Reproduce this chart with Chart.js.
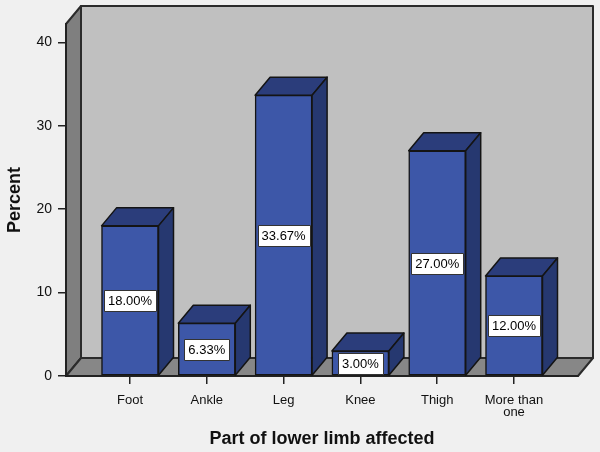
<!DOCTYPE html>
<html lang="en">
<head>
  <meta charset="UTF-8" />
  <title>Part of lower limb affected</title>
  <script src="https://cdn.jsdelivr.net/npm/chart.js"></script>
  <style>
    body {
      margin: 0;
      background: #f0f0f0;
    }
    canvas {
      display: block;
    }
  </style>
</head>
<body>
  <canvas id="limbChart" width="600" height="452"></canvas>

  <script>
  const categories = ['Foot', 'Ankle', 'Leg', 'Knee', 'Thigh', ['More than', 'one']];
  const percents = [18.00, 6.33, 33.67, 3.00, 27.00, 12.00];
  const yTicks = [0, 10, 20, 30, 40];

  // depth of the fake 3D box
  const DX = 15, DY = -18;

  function poly(ctx, pts, fill) {
    ctx.beginPath();
    ctx.moveTo(pts[0][0], pts[0][1]);
    for (let i = 1; i < pts.length; i++) ctx.lineTo(pts[i][0], pts[i][1]);
    ctx.closePath();
    ctx.fillStyle = fill;
    ctx.fill();
    ctx.stroke();
  }

  const box3d = {
    id: 'box3d',
    beforeDraw(chart) {
      const { ctx, chartArea: a } = chart;
      ctx.save();
      ctx.lineWidth = 2;
      ctx.strokeStyle = '#2b2b2b';
      ctx.lineJoin = 'round';
      // back wall
      poly(ctx, [[a.left + DX, a.top + DY], [a.right + DX, a.top + DY],
                 [a.right + DX, a.bottom + DY], [a.left + DX, a.bottom + DY]], '#c0c0c0');
      // left wall
      poly(ctx, [[a.left, a.top], [a.left + DX, a.top + DY],
                 [a.left + DX, a.bottom + DY], [a.left, a.bottom]], '#7f7f7f');
      // floor
      poly(ctx, [[a.left, a.bottom], [a.left + DX, a.bottom + DY],
                 [a.right + DX, a.bottom + DY], [a.right, a.bottom]], '#878787');
      ctx.restore();
    },
    afterDatasetsDraw(chart) {
      const ctx = chart.ctx;
      const meta = chart.getDatasetMeta(0);
      ctx.save();
      ctx.lineWidth = 1.5;
      ctx.strokeStyle = '#141414';
      ctx.lineJoin = 'round';
      meta.data.forEach(bar => {
        const { x, y, base, width } = bar.getProps(['x', 'y', 'base', 'width'], true);
        const l = x - width / 2, r = x + width / 2;
        poly(ctx, [[l, y], [l + DX, y + DY], [r + DX, y + DY], [r, y]], '#2b3d7b');
        poly(ctx, [[r, y], [r + DX, y + DY], [r + DX, base + DY], [r, base]], '#263870');
      });

      // value boxes
      ctx.font = '13px Arial, "Liberation Sans", sans-serif';
      ctx.textAlign = 'center';
      ctx.textBaseline = 'middle';
      ctx.lineWidth = 1;
      ctx.strokeStyle = '#333';
      meta.data.forEach((bar, i) => {
        const { x, y, base } = bar.getProps(['x', 'y', 'base'], true);
        const txt = percents[i].toFixed(2) + '%';
        const w = Math.round(ctx.measureText(txt).width + 8), h = 21;
        const cy = (y + base) / 2;
        ctx.fillStyle = '#fff';
        ctx.fillRect(Math.round(x - w / 2) + 0.5, Math.round(cy - h / 2) + 0.5, w, h);
        ctx.strokeRect(Math.round(x - w / 2) + 0.5, Math.round(cy - h / 2) + 0.5, w, h);
        ctx.fillStyle = '#000';
        ctx.fillText(txt, x, cy + 1);
      });
      ctx.restore();
    }
  };

  Chart.defaults.font.family = 'Arial, "Liberation Sans", sans-serif';
  Chart.defaults.color = '#111';

  new Chart(document.getElementById('limbChart'), {
    type: 'bar',
    data: {
      datasets: [{
        data: percents.map((v, i) => ({ x: i, y: v })),
        backgroundColor: '#3d57a8',
        borderColor: '#141414',
        borderWidth: 1.5,
        borderSkipped: false,
        barThickness: 57
      }]
    },
    options: {
      responsive: false,
      animation: false,
      layout: { padding: { top: 24, right: 22, left: 0, bottom: 0 } },
      plugins: {
        legend: { display: false },
        tooltip: { enabled: false }
      },
      scales: {
        x: {
          type: 'linear',
          min: -5 / 6,
          max: 35 / 6,
          offset: false,
          afterBuildTicks: s => { s.ticks = categories.map((_, i) => ({ value: i })); },
          ticks: {
            callback: v => categories[v],
            font: { size: 13, lineHeight: 0.95 },
            color: '#111',
            padding: 10,
            maxRotation: 0
          },
          grid: { offset: false, drawOnChartArea: false, drawTicks: true, tickLength: 8, color: '#222', lineWidth: 1.5 },
          border: { color: '#222', width: 2 },
          title: {
            display: true,
            text: 'Part of lower limb affected',
            font: { size: 18, weight: 'bold' },
            color: '#111',
            padding: { top: 0, bottom: 2 }
          },
          afterFit(s) { s.height = 76; }
        },
        y: {
          min: 0,
          max: 42.2,
          afterBuildTicks: s => { s.ticks = yTicks.map(v => ({ value: v })); },
          ticks: { font: { size: 14 }, color: '#111', padding: 6 },
          grid: { drawOnChartArea: false, drawTicks: true, tickLength: 8, color: '#222', lineWidth: 1.5 },
          border: { color: '#222', width: 2 },
          title: {
            display: true,
            text: 'Percent',
            font: { size: 18, weight: 'bold' },
            color: '#111',
            padding: { top: 4, bottom: 0 }
          },
          afterFit(s) { s.width = 66; }
        }
      }
    },
    plugins: [box3d]
  });
  </script>
</body>
</html>
